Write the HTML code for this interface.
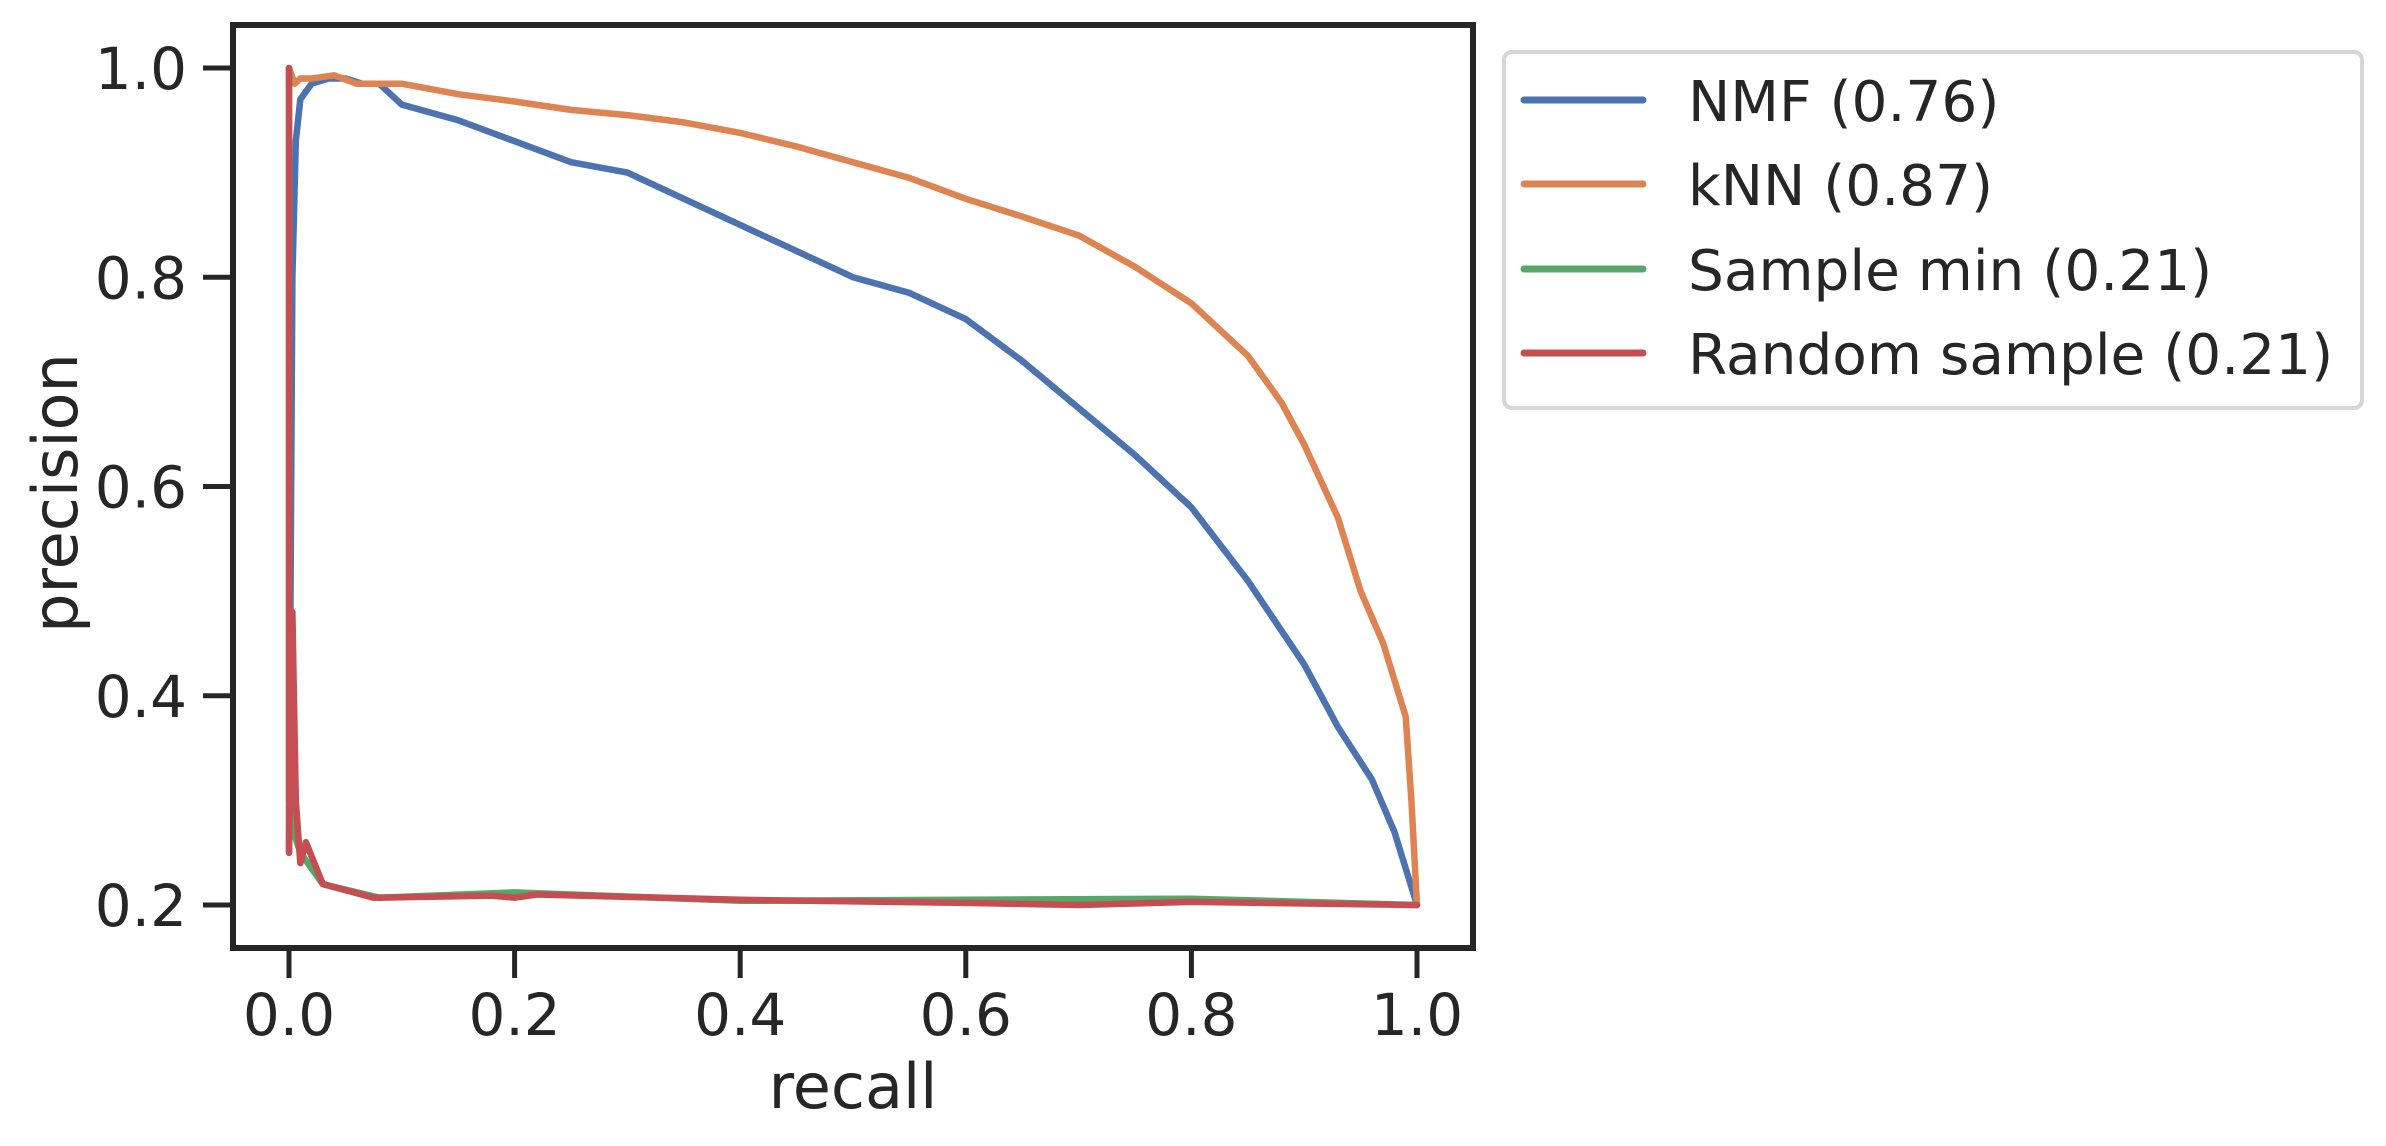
<!DOCTYPE html>
<html><head><meta charset="utf-8"><style>
html,body{margin:0;padding:0;background:#fff;}
svg{display:block;font-family:"DejaVu Sans","Liberation Sans",sans-serif;}
</style></head><body>
<svg id="chart" width="2386" height="1146" viewBox="0 0 2386 1146" xmlns="http://www.w3.org/2000/svg">
<g id="plot"></g>
<g id="axes"></g>
<g id="legend"></g>
</svg>
<script>
const xTicks=[0,0.2,0.4,0.6,0.8,1.0];
const yTicks=[0.2,0.4,0.6,0.8,1.0];
const xTickLabels=["0.0","0.2","0.4","0.6","0.8","1.0"];
const yTickLabels=["0.2","0.4","0.6","0.8","1.0"];
const seriesNames=["NMF (0.76)","kNN (0.87)","Sample min (0.21)","Random sample (0.21)"];
const nmfRecall=[0,0.003,0.006,0.01,0.02,0.035,0.05,0.065,0.08,0.1,0.15,0.2,0.25,0.3,0.35,0.4,0.45,0.5,0.55,0.6,0.65,0.7,0.75,0.8,0.85,0.9,0.93,0.96,0.98,1.0];
const nmfPrec=[0.25,0.8,0.93,0.97,0.985,0.99,0.99,0.985,0.985,0.965,0.95,0.93,0.91,0.9,0.875,0.85,0.825,0.8,0.785,0.76,0.72,0.675,0.63,0.58,0.51,0.43,0.37,0.32,0.27,0.2];
const knnRecall=[0,0.005,0.01,0.02,0.04,0.06,0.1,0.15,0.2,0.25,0.3,0.35,0.4,0.45,0.5,0.55,0.6,0.65,0.7,0.75,0.8,0.85,0.88,0.9,0.93,0.95,0.97,0.99,0.995,1.0];
const knnPrec=[1.0,0.985,0.99,0.99,0.993,0.985,0.985,0.975,0.968,0.96,0.955,0.948,0.938,0.925,0.91,0.895,0.875,0.858,0.84,0.81,0.775,0.725,0.68,0.64,0.57,0.5,0.45,0.38,0.3,0.2];
const minRecall=[0,0,0.004,0.01,0.03,0.08,0.2,0.4,0.8,1.0];
const minPrec=[1.0,0.3,0.27,0.25,0.22,0.207,0.212,0.204,0.206,0.2];
const randRecall=[0,0,0.003,0.006,0.01,0.015,0.03,0.075,0.18,0.2,0.22,0.4,0.6,0.7,0.8,1.0];
const randPrec=[1.0,0.25,0.48,0.3,0.24,0.26,0.22,0.207,0.209,0.207,0.21,0.205,0.202,0.2,0.203,0.2];
const colors=["#4c72b0","#dd8452","#55a868","#c44e52"];
const NS="http://www.w3.org/2000/svg";
const X0=289,X1=1417,Y02=905,Y10=68;
function sx(v){return X0+(X1-X0)*v;}
function sy(v){return Y02+(Y10-Y02)*(v-0.2)/0.8;}
function mk(tag,attrs,parent){const e=document.createElementNS(NS,tag);for(const k in attrs)e.setAttribute(k,attrs[k]);parent.appendChild(e);return e;}
const plot=document.getElementById('plot'),axes=document.getElementById('axes'),legend=document.getElementById('legend');
const defs=mk('defs',{},plot);const cp=mk('clipPath',{id:'clip'},defs);mk('rect',{x:233,y:25,width:1240,height:923},cp);
const sets=[[nmfRecall,nmfPrec,'nmf-line'],[knnRecall,knnPrec,'knn-line'],[minRecall,minPrec,'sample-min-line'],[randRecall,randPrec,'random-sample-line']];
sets.forEach((s,i)=>{
  const d=s[0].map((r,j)=>(j?'L':'M')+sx(r).toFixed(1)+','+sy(s[1][j]).toFixed(1)).join(' ');
  const p=mk('path',{d:d,fill:'none',stroke:colors[i],'stroke-width':6.5,'stroke-linejoin':'round','stroke-linecap':'round','clip-path':'url(#clip)'},plot);
  
  
});
const frame=mk('rect',{x:233,y:25,width:1240,height:923,fill:'none',stroke:'#262626','stroke-width':6},axes);


xTicks.forEach((v,i)=>{
  const t=mk('line',{x1:sx(v),x2:sx(v),y1:948,y2:978,stroke:'#262626','stroke-width':5},axes);
  
  
  const l=mk('text',{x:sx(v),y:1035,'text-anchor':'middle','font-size':58,fill:'#262626'},axes);
  l.textContent=xTickLabels[i];
  
  
});
yTicks.forEach((v,i)=>{
  const t=mk('line',{x1:203,x2:233,y1:sy(v),y2:sy(v),stroke:'#262626','stroke-width':5},axes);
  
  
  const l=mk('text',{x:187,y:sy(v)+21,'text-anchor':'end','font-size':58,fill:'#262626'},axes);
  l.textContent=yTickLabels[i];
  
  
});
const xl=mk('text',{x:853,y:1108,'text-anchor':'middle','font-size':62,fill:'#262626'},axes);
xl.textContent='recall';


const yl=mk('text',{x:0,y:0,'text-anchor':'middle','font-size':62,fill:'#262626',transform:'translate(77,493) rotate(-90)'},axes);
yl.textContent='precision';


const lb=mk('rect',{x:1504,y:52,width:858,height:356,rx:8,fill:'#fff',stroke:'#d6d6d6','stroke-width':4},legend);


const ly=[100,184,269,353];
seriesNames.forEach((n,i)=>{
  const g=mk('g',{},legend);
  
  
  mk('line',{x1:1524,x2:1643,y1:ly[i],y2:ly[i],stroke:colors[i],'stroke-width':7,'stroke-linecap':'round'},g);
  const t=mk('text',{x:1688,y:ly[i]+21,'font-size':56.5,fill:'#262626'},g);
  t.textContent=n;
});
</script>
</body></html>
